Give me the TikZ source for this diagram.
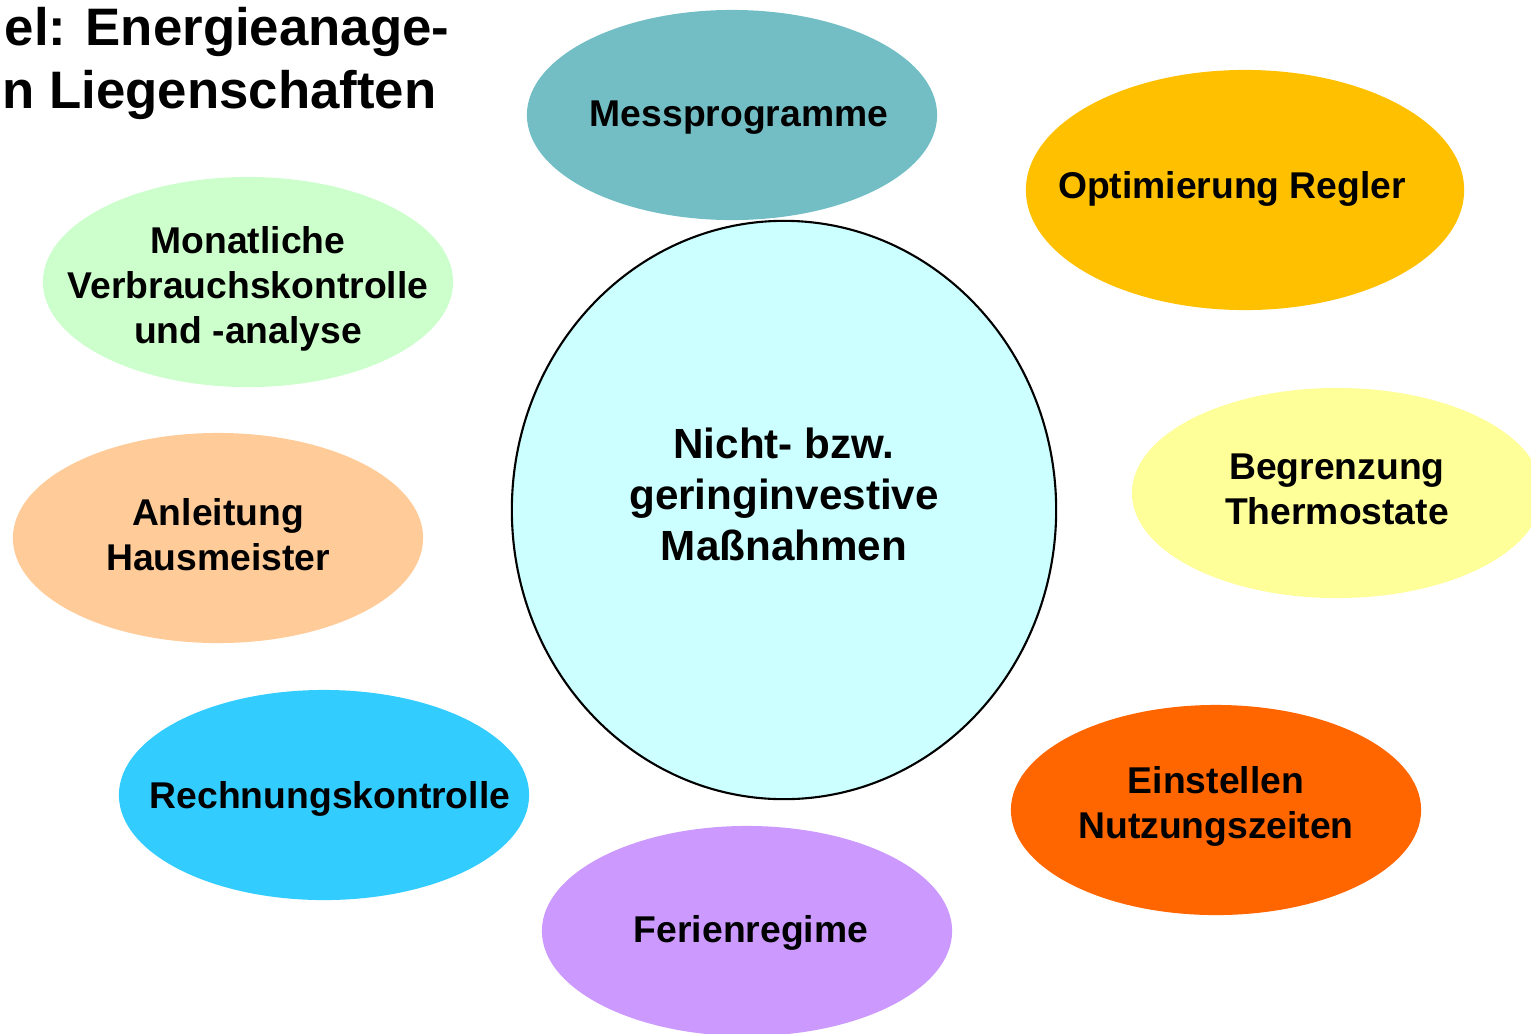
\documentclass[tikz,border=0pt]{standalone}
\usepackage{fontspec}
\setmainfont{Liberation Sans}
\usetikzlibrary{shapes.geometric}
\definecolor{hubcyan}{HTML}{CCFFFF}
\definecolor{messteal}{HTML}{72BEC4}
\definecolor{reglergold}{HTML}{FFC000}
\definecolor{monatgreen}{HTML}{CCFFCC}
\definecolor{hausapricot}{HTML}{FFCC99}
\definecolor{thermoyellow}{HTML}{FFFF99}
\definecolor{rechnungblue}{HTML}{33CCFF}
\definecolor{nutzungorange}{HTML}{FF6600}
\definecolor{ferienlilac}{HTML}{CC99FF}

\begin{document}
\begin{tikzpicture}[
x=0.01cm, y=-0.01cm,
blob/.style={ellipse, draw=none, inner sep=0pt,
minimum width=4.1cm, minimum height=2.1cm},
blobtext/.style={align=center, inner sep=0pt,
font=\fontsize{10.6}{12.8}\selectfont\bfseries},
hub/.style={ellipse, draw=black, line width=0.6pt, fill=hubcyan,
minimum width=5.44cm, minimum height=5.78cm, inner sep=0pt},
hubtext/.style={align=center, inner sep=0pt,
font=\fontsize{12}{14.5}\selectfont\bfseries},
headline/.style={anchor=base west, inner sep=0pt,
font=\fontsize{15}{18}\selectfont\bfseries}
]
\useasboundingbox (0,0) rectangle (1531,1033);

% title (cut off at the left edge)
\node[headline] (title1) at (4,45) {el: Energieanage-};
\node[headline] (title2) at (2,108) {n Liegenschaften};

% centre
\node[hub, label={[hubtext, yshift=0.16cm]center:{Nicht- bzw.\\ geringinvestive\\ Maßnahmen}}] (hub) at (784,510) {};

% measures around the centre
\node[blob, fill=messteal,
label={[blobtext, xshift=0.07cm, yshift=-0.03cm]center:Messprogramme}] (mess) at (732,115) {};
\node[blob, fill=reglergold, minimum width=4.38cm, minimum height=2.4cm,
label={[blobtext, xshift=-0.13cm, yshift=0.01cm]center:Optimierung Regler}] (regler) at (1245,190) {};
\node[blob, fill=monatgreen,
label={[blobtext, yshift=-0.07cm]center:{Monatliche\\ Verbrauchskontrolle\\ und -analyse}}] (monat) at (248,282) {};
\node[blob, fill=hausapricot,
label={[blobtext, yshift=0.03cm]center:{Anleitung\\ Hausmeister}}] (haus) at (218,538) {};
\node[blob, fill=thermoyellow,
label={[blobtext, yshift=0.04cm]center:{Begrenzung\\ Thermostate}}] (thermo) at (1337,493) {};
\node[blob, fill=rechnungblue,
label={[blobtext, xshift=0.06cm, yshift=-0.04cm]center:Rechnungskontrolle}] (rechnung) at (324,795) {};
\node[blob, fill=nutzungorange,
label={[blobtext, yshift=0.04cm]center:{Einstellen\\ Nutzungszeiten}}] (nutzung) at (1216,810) {};
\node[blob, fill=ferienlilac,
label={[blobtext, xshift=0.04cm, yshift=-0.02cm]center:Ferienregime}] (ferien) at (747,931) {};

\end{tikzpicture}
\end{document}
